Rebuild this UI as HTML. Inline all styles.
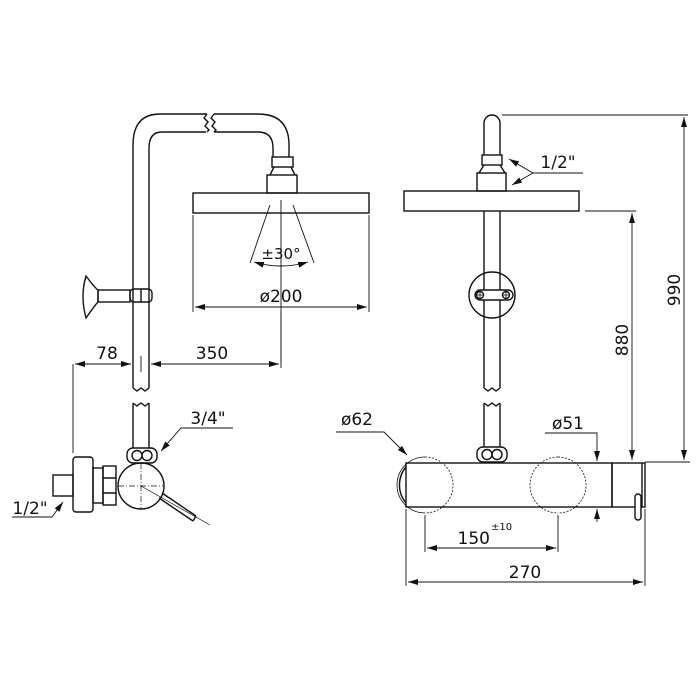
<!DOCTYPE html>
<html><head><meta charset="utf-8"><style>
html,body{margin:0;padding:0;background:#fff;}
svg{display:block;}
text{font-family:"DejaVu Sans","Liberation Sans",sans-serif;fill:#111;}
</style></head><body>
<svg width="700" height="700" viewBox="0 0 700 700" xmlns="http://www.w3.org/2000/svg">
<defs>
<marker id="a" markerWidth="10" markerHeight="6" refX="10" refY="3" orient="auto-start-reverse" markerUnits="userSpaceOnUse"><path d="M0,0 L10,3 L0,6 z" fill="#111"/></marker>
</defs>
<g fill="none" stroke="#111" stroke-width="1.4">
<path d="M133,388 L133,145 Q133,114 160,114 L207,114"/>
<path d="M149,388 L149,148 Q149,132 162,132 L206,132"/>
<path d="M207,114 l-3,4 l4,4 l-3,4 l4,4 l-2,2"/>
<path d="M214,114 l-3,4 l4,4 l-3,4 l4,4 l-2,2"/>
<path d="M214,114 L258,114 Q289,114 289,145 L289,157"/>
<path d="M214,132 L258,132 Q273,132 273,148 L273,157"/>
<rect x="272" y="157" width="21" height="10"/>
<path d="M274,167 L270,175 M291,167 L295,175"/>
<rect x="267" y="175" width="30" height="18"/>
<rect x="193" y="193" width="176" height="20"/>
<path d="M270,205 L250,263 M293,205 L314,263" stroke-width="0.9"/>
<path d="M281,200 L281,362" stroke-width="0.9"/>
<path d="M254,262 Q281,270 308,262" stroke-width="0.9" marker-start="url(#a)" marker-end="url(#a)"/>
<path d="M193,215 L193,312 M369,215 L369,312" stroke-width="0.9"/>
<path d="M195,307 L367,307" stroke-width="0.9" marker-start="url(#a)" marker-end="url(#a)"/>
<path d="M86,276 Q80,296 86,318 Q95,305 98,302 L98,290 Q95,288 86,276 z"/>
<rect x="98" y="290" width="32" height="12"/>
<rect x="130" y="289" width="22" height="13" rx="4"/>
<path d="M141,289 L141,302"/>
<path d="M133,403 L133,448 M149,403 L149,448"/>
<path d="M133,388 l4,3 l4,-3 l4,3 l4,-3 M133,403 l4,3 l4,-3 l4,3 l4,-3"/>
<rect x="127" y="448" width="30" height="15" rx="6"/>
<circle cx="137" cy="455.5" r="5"/><circle cx="147" cy="455.5" r="5"/>
<path d="M73,364 L73,453 M281,312 L281,368" stroke-width="0.9"/>
<path d="M75,364 L131,364" stroke-width="0.9" marker-start="url(#a)" marker-end="url(#a)"/>
<path d="M151,364 L279,364" stroke-width="0.9" marker-start="url(#a)" marker-end="url(#a)"/>
<path d="M141,356 L141,372" stroke-width="0.9"/>
<rect x="53" y="475" width="20" height="21"/>
<rect x="73" y="457" width="20" height="55" rx="3"/>
<rect x="93" y="468" width="10" height="35"/>
<rect x="103" y="466" width="13" height="39"/>
<path d="M103,478 L116,478 M103,493 L116,493"/>
<circle cx="141" cy="486" r="23"/>
<path d="M118,486 L164,486 M141,463 L141,509" stroke-width="0.7" stroke-dasharray="6,2,1,2"/>
<path d="M159,498 L193,521 M162,493 L196,516 M193,521 L196,516"/>
<path d="M141,486 L210,525" stroke-width="0.7"/>
<path d="M233,428 L181,428 L161,451" stroke-width="0.9" marker-end="url(#a)"/>
<path d="M12,517 L52,517 L63,502" stroke-width="0.9" marker-end="url(#a)"/>
<path d="M484,155 L484,123 A8,8 0 0 1 500,123 L500,155"/>
<rect x="482" y="155" width="20" height="10"/>
<path d="M484,165 L479,173 M500,165 L505,173"/>
<rect x="477" y="173" width="29" height="18"/>
<rect x="404" y="191" width="175" height="20"/>
<path d="M484,211 L484,388 M500,211 L500,388"/>
<path d="M484,388 l4,3 l4,-3 l4,3 l4,-3 M484,403 l4,3 l4,-3 l4,3 l4,-3"/>
<path d="M484,403 L484,447 M500,403 L500,447"/>
<circle cx="492" cy="295" r="23"/>
<rect x="475" y="290" width="38" height="10" rx="5" fill="#fff"/>
<circle cx="480" cy="295" r="3.5"/><circle cx="506" cy="295" r="3.5"/>
<path d="M477,295 L483,295 M480,292 L480,298 M503,295 L509,295 M506,292 L506,298" stroke-width="0.8"/>
<rect x="477" y="447" width="30" height="15" rx="6"/>
<circle cx="487" cy="454.5" r="5"/><circle cx="497" cy="454.5" r="5"/>
<rect x="406" y="463" width="206" height="44" fill="#fff"/>
<path d="M406,467 A28,28 0 0 0 406,503"/>
<path d="M425,457 A28,28 0 0 1 425,513" stroke-width="0.8" stroke-dasharray="2,1.5"/>
<path d="M558,457 A28,28 0 0 1 558,513" stroke-width="0.8" stroke-dasharray="2,1.5"/>
<path d="M558,457 A28,28 0 0 0 558,513" stroke-width="0.8" stroke-dasharray="2,1.5"/>
<path d="M425,457 A28,28 0 0 0 425,513" stroke-width="0.8"/>
<rect x="612" y="463" width="33" height="44"/>
<path d="M642,463 L642,507"/>
<rect x="635" y="494" width="6" height="26" rx="3" fill="#fff"/>
<path d="M583,173 L533,173 L509,159" stroke-width="0.9" marker-end="url(#a)"/>
<path d="M533,173 L512,185" stroke-width="0.9" marker-end="url(#a)"/>
<path d="M502,115 L688,115 M645,462 L690,462" stroke-width="0.9"/>
<path d="M684,117 L684,460" stroke-width="0.9" marker-start="url(#a)" marker-end="url(#a)"/>
<path d="M585,211 L636,211" stroke-width="0.9"/>
<path d="M632,213 L632,460" stroke-width="0.9" marker-start="url(#a)" marker-end="url(#a)"/>
<path d="M336,432 L384,432 L407,455" stroke-width="0.9" marker-end="url(#a)"/>
<path d="M545,433 L597,433 L597,461" stroke-width="0.9" marker-end="url(#a)"/>
<path d="M597,522 L597,509" stroke-width="0.9" marker-end="url(#a)"/>
<path d="M425,515 L425,552 M558,515 L558,552" stroke-width="0.9"/>
<path d="M427,548 L556,548" stroke-width="0.9" marker-start="url(#a)" marker-end="url(#a)"/>
<path d="M406,509 L406,586 M645,509 L645,586" stroke-width="0.9"/>
<path d="M408,582 L643,582" stroke-width="0.9" marker-start="url(#a)" marker-end="url(#a)"/>
</g>
<g font-size="17">
<text x="281" y="259" text-anchor="middle" font-size="15">±30°</text>
<text x="281" y="302" text-anchor="middle">ø200</text>
<text x="107" y="359" text-anchor="middle">78</text>
<text x="212" y="359" text-anchor="middle">350</text>
<text x="208" y="424" text-anchor="middle">3/4"</text>
<text x="30" y="514" text-anchor="middle">1/2"</text>
<text x="558" y="168" text-anchor="middle">1/2"</text>
<text x="357" y="425" text-anchor="middle">ø62</text>
<text x="568" y="429" text-anchor="middle">ø51</text>
<text x="490" y="544" text-anchor="end">150</text>
<text x="491" y="530" font-size="10">±10</text>
<text x="525" y="578" text-anchor="middle">270</text>
<text transform="translate(628,340) rotate(-90)" text-anchor="middle">880</text>
<text transform="translate(680,290) rotate(-90)" text-anchor="middle">990</text>
</g>
</svg>
</body></html>
